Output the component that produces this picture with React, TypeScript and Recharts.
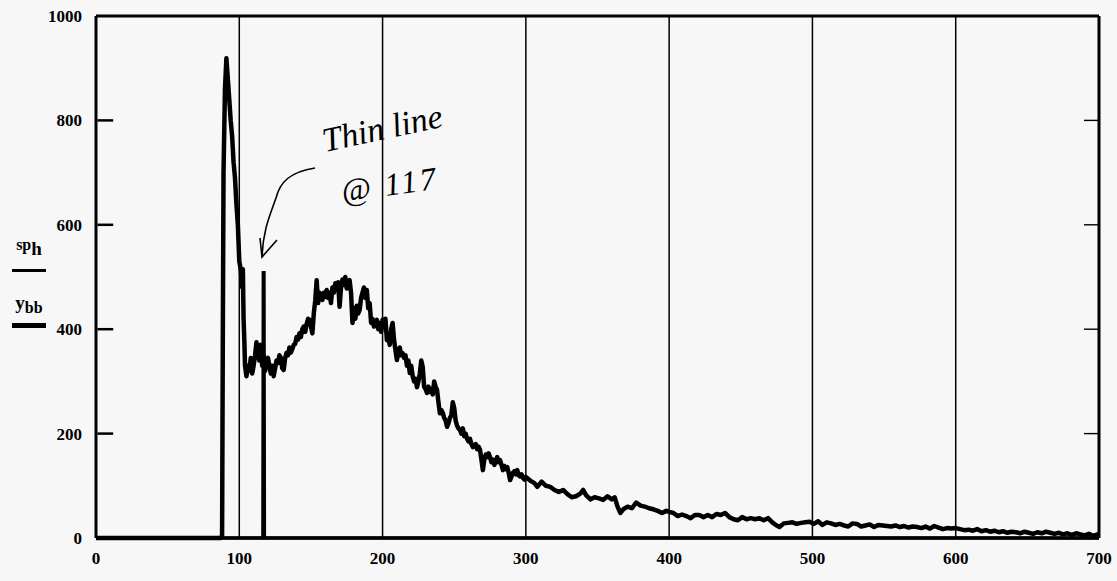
import React from "react";
import { LineChart, Line, XAxis, YAxis, CartesianGrid, ReferenceLine } from "recharts";

// channel / counts pairs, split by region
const peakRegion: [number, number][] = [
  [0, 0], [87, 0], [88, 5], [88.5, 380], [89, 700], [90, 860], [91, 919], [92, 880],
  [93, 840], [94, 800], [95, 770], [96, 720], [97, 690], [98, 640], [99, 600],
  [100, 530], [101, 515], [102, 480], [102.5, 515], [103, 420], [103.5, 380],
  [104, 330], [105, 310], [106, 330], [107, 320], [108, 345], [109, 315], [110, 330],
  [111, 350], [112, 375], [113, 355], [114, 340], [115, 370], [116, 330], [117, 350],
  [118, 320], [119, 340], [120, 345], [121, 330], [122, 315], [123, 330], [124, 310],
  [125, 325], [126, 340], [127, 335], [128, 350], [129, 345], [130, 325], [131, 322],
];

const bumpRegion: [number, number][] = [
  [132, 345], [133, 355], [134, 350], [135, 365], [136, 355], [137, 362], [138, 370],
  [139, 372], [140, 385], [141, 380], [142, 392], [143, 385], [144, 400], [145, 405],
  [146, 395], [147, 410], [148, 420], [149, 418], [150, 405], [151, 392], [152, 430],
  [153, 455], [154, 494], [155, 450], [156, 470], [157, 460], [158, 456], [159, 470],
  [160, 462], [161, 475], [162, 460], [163, 470], [164, 450], [165, 480], [166, 470],
  [167, 488], [168, 475], [169, 490], [170, 443], [171, 480], [172, 495], [173, 485],
  [174, 500], [175, 478], [176, 490], [177, 494], [178, 470], [179, 412], [180, 440],
  [181, 420], [182, 445], [183, 430], [184, 437], [185, 460], [186, 470], [187, 480],
  [188, 460], [189, 475], [190, 440], [191, 450], [192, 412], [193, 420], [194, 405],
  [195, 410], [196, 418], [197, 400], [198, 412], [199, 395], [200, 418], [201, 405],
  [202, 420], [203, 379], [204, 385], [205, 370], [206, 400], [207, 412], [208, 380],
  [209, 360], [210, 341], [211, 355], [212, 365], [213, 350], [214, 354], [215, 345],
  [216, 350], [217, 330], [218, 340], [219, 316], [220, 330], [221, 310], [222, 300],
  [223, 305], [224, 289], [225, 300], [226, 315], [227, 340], [228, 328], [229, 290],
  [230, 285], [231, 278], [232, 290], [233, 280], [234, 285], [235, 275], [236, 300],
  [237, 290], [238, 284], [239, 260], [240, 239], [241, 245], [242, 240], [243, 230],
  [244, 225], [245, 213], [246, 220], [247, 230], [248, 235], [249, 260], [250, 249],
  [251, 225], [252, 215], [253, 210], [254, 207], [255, 200], [256, 210], [257, 195],
  [258, 200], [259, 190], [260, 185], [261, 190], [262, 180], [263, 174], [264, 178],
  [265, 180], [266, 170], [267, 175], [268, 169], [269, 150], [270, 130], [271, 150],
  [272, 160], [273, 155], [274, 162], [275, 155], [276, 145], [277, 150], [278, 140],
  [279, 148], [280, 155], [281, 145], [282, 149], [283, 140], [284, 130], [285, 138],
  [286, 132], [287, 136], [288, 125], [289, 111], [290, 118], [291, 125], [292, 128],
  [293, 122], [294, 130], [295, 120], [296, 118], [297, 122], [298, 115], [299, 112],
];

const tailRegion: [number, number][] = [
  [300, 117], [303, 110], [306, 105], [308, 98], [311, 108], [314, 100], [317, 98],
  [320, 92], [323, 88], [326, 92], [329, 84], [332, 78], [335, 80], [338, 85],
  [340, 92], [342, 82], [345, 74], [348, 78], [351, 76], [354, 73], [357, 80],
  [360, 74], [362, 78], [364, 60], [366, 48], [368, 55], [371, 60], [374, 57],
  [377, 68], [380, 62], [383, 60], [386, 57], [389, 55], [392, 52], [395, 48],
  [398, 52], [400, 50], [403, 48], [406, 42], [409, 45], [412, 42], [415, 38],
  [418, 44], [421, 44], [424, 40], [427, 44], [430, 40], [433, 46], [436, 44],
  [439, 48], [442, 40], [445, 36], [448, 34], [451, 40], [454, 36], [457, 38],
  [460, 36], [463, 38], [466, 34], [469, 38], [472, 30], [475, 24], [477, 21],
  [480, 28], [483, 29], [486, 30], [489, 27], [492, 29], [495, 30], [498, 31],
  [501, 27], [504, 32], [507, 25], [510, 30], [513, 28], [516, 25], [519, 27],
  [522, 24], [525, 22], [528, 28], [531, 27], [534, 22], [537, 24], [540, 26],
  [543, 21], [546, 25], [549, 24], [552, 23], [555, 22], [558, 24], [561, 21],
  [564, 23], [567, 20], [570, 22], [573, 21], [576, 19], [579, 22], [582, 18],
  [585, 23], [588, 20], [591, 17], [594, 19], [597, 18], [600, 19], [603, 17],
  [606, 15], [609, 16], [612, 14], [615, 17], [618, 13], [621, 15], [624, 12],
  [627, 14], [630, 11], [633, 13], [636, 10], [639, 12], [642, 11], [645, 9],
  [648, 12], [651, 10], [654, 8], [657, 11], [660, 9], [663, 12], [666, 10],
  [669, 8], [672, 10], [675, 7], [678, 9], [681, 6], [684, 9], [687, 7],
  [690, 5], [693, 8], [696, 4], [699, 7], [700, 6],
];

// the thin line at channel 117
const spChannels = [0, 116.5, 116.8, 117.2, 117.5, 700];
const spCounts = [0, 0, 508, 508, 0, 0];

const xTicks = [0, 100, 200, 300, 400, 500, 600, 700];
const yTicks = [0, 200, 400, 600, 800, 1000];
const innerTicks = [200, 400, 600, 800];

const ybbData = [...peakRegion, ...bumpRegion, ...tailRegion].map(([x, y]) => ({ x, ybb: y }));
const sphData = spChannels.map((x, i) => ({ x, sph: spCounts[i] }));

const FONT = "'Liberation Serif', 'DejaVu Serif', serif";
const tickFont = { fontFamily: FONT, fontWeight: "bold", fontSize: 17, fill: "#000" };

export default function App() {
  return (
    <div style={{ position: "absolute", left: 0, top: 0, width: 1117, height: 581, background: "#f7f7f7", fontFamily: FONT }}>
      <LineChart width={1117} height={581} data={ybbData} margin={{ top: 16, right: 18, bottom: 13, left: 36 }}>
        <CartesianGrid horizontal={false} stroke="#000" strokeWidth={1.5} />
        <XAxis
          dataKey="x"
          type="number"
          domain={[0, 700]}
          ticks={xTicks}
          height={30}
          tickLine={false}
          tickMargin={8}
          axisLine={{ stroke: "#000", strokeWidth: 3 }}
          tick={tickFont}
        />
        <YAxis
          domain={[0, 1000]}
          ticks={yTicks}
          width={60}
          tickLine={false}
          tickMargin={8}
          axisLine={{ stroke: "#000", strokeWidth: 3 }}
          tick={tickFont}
        />
        {/* frame top / right */}
        <ReferenceLine y={1000} stroke="#000" strokeWidth={3} />
        <ReferenceLine x={700} stroke="#000" strokeWidth={3} />
        {/* inward tick marks, left and right */}
        {innerTicks.map((v) => (
          <ReferenceLine key={"l" + v} segment={[{ x: 12, y: v }, { x: 1, y: v }]} stroke="#000" strokeWidth={2.5} />
        ))}
        {innerTicks.map((v) => (
          <ReferenceLine key={"r" + v} segment={[{ x: 689.5, y: v }, { x: 700, y: v }]} stroke="#000" strokeWidth={1.4} />
        ))}
        <Line data={sphData} dataKey="sph" type="linear" stroke="#000" strokeWidth={3.5} dot={false} isAnimationActive={false} />
        <Line dataKey="ybb" type="linear" stroke="#000" strokeWidth={4.5} strokeLinejoin="round" dot={false} isAnimationActive={false} />
      </LineChart>

      {/* y label / legend */}
      <div style={{ position: "absolute", left: 10, top: 234, width: 38, textAlign: "center", fontWeight: "bold", lineHeight: "22px" }}>
        <span style={{ fontSize: 16, verticalAlign: "5px" }}>sp</span>
        <span style={{ fontSize: 19 }}>h</span>
      </div>
      <div style={{ position: "absolute", left: 12, top: 269, width: 34, height: 3, background: "#000" }} />
      <div style={{ position: "absolute", left: 10, top: 292, width: 38, textAlign: "center", fontWeight: "bold", lineHeight: "22px" }}>
        <span style={{ fontSize: 19 }}>y</span>
        <span style={{ fontSize: 16, verticalAlign: "-4px" }}>bb</span>
      </div>
      <div style={{ position: "absolute", left: 12, top: 323, width: 34, height: 5, background: "#000" }} />

      {/* handwritten note */}
      <svg style={{ position: "absolute", left: 0, top: 0, pointerEvents: "none" }} width={1117} height={581}>
        <path d="M315 168 C 290 172, 280 182, 276 198 C 270 215, 263 230, 262 257" fill="none" stroke="#000" strokeWidth={1.6} />
        <path d="M277 240 L262 257 L260 238" fill="none" stroke="#000" strokeWidth={1.6} />
        <text x={325} y={152} transform="rotate(-12 325 152)" fontFamily={FONT} fontStyle="italic" fontSize={34} fill="#000">
          Thin line
        </text>
        <text x={343} y={202} transform="rotate(-8 343 202)" fontFamily={FONT} fontStyle="italic" fontSize={32} letterSpacing={3} fill="#000">
          @ 117
        </text>
      </svg>
    </div>
  );
}
